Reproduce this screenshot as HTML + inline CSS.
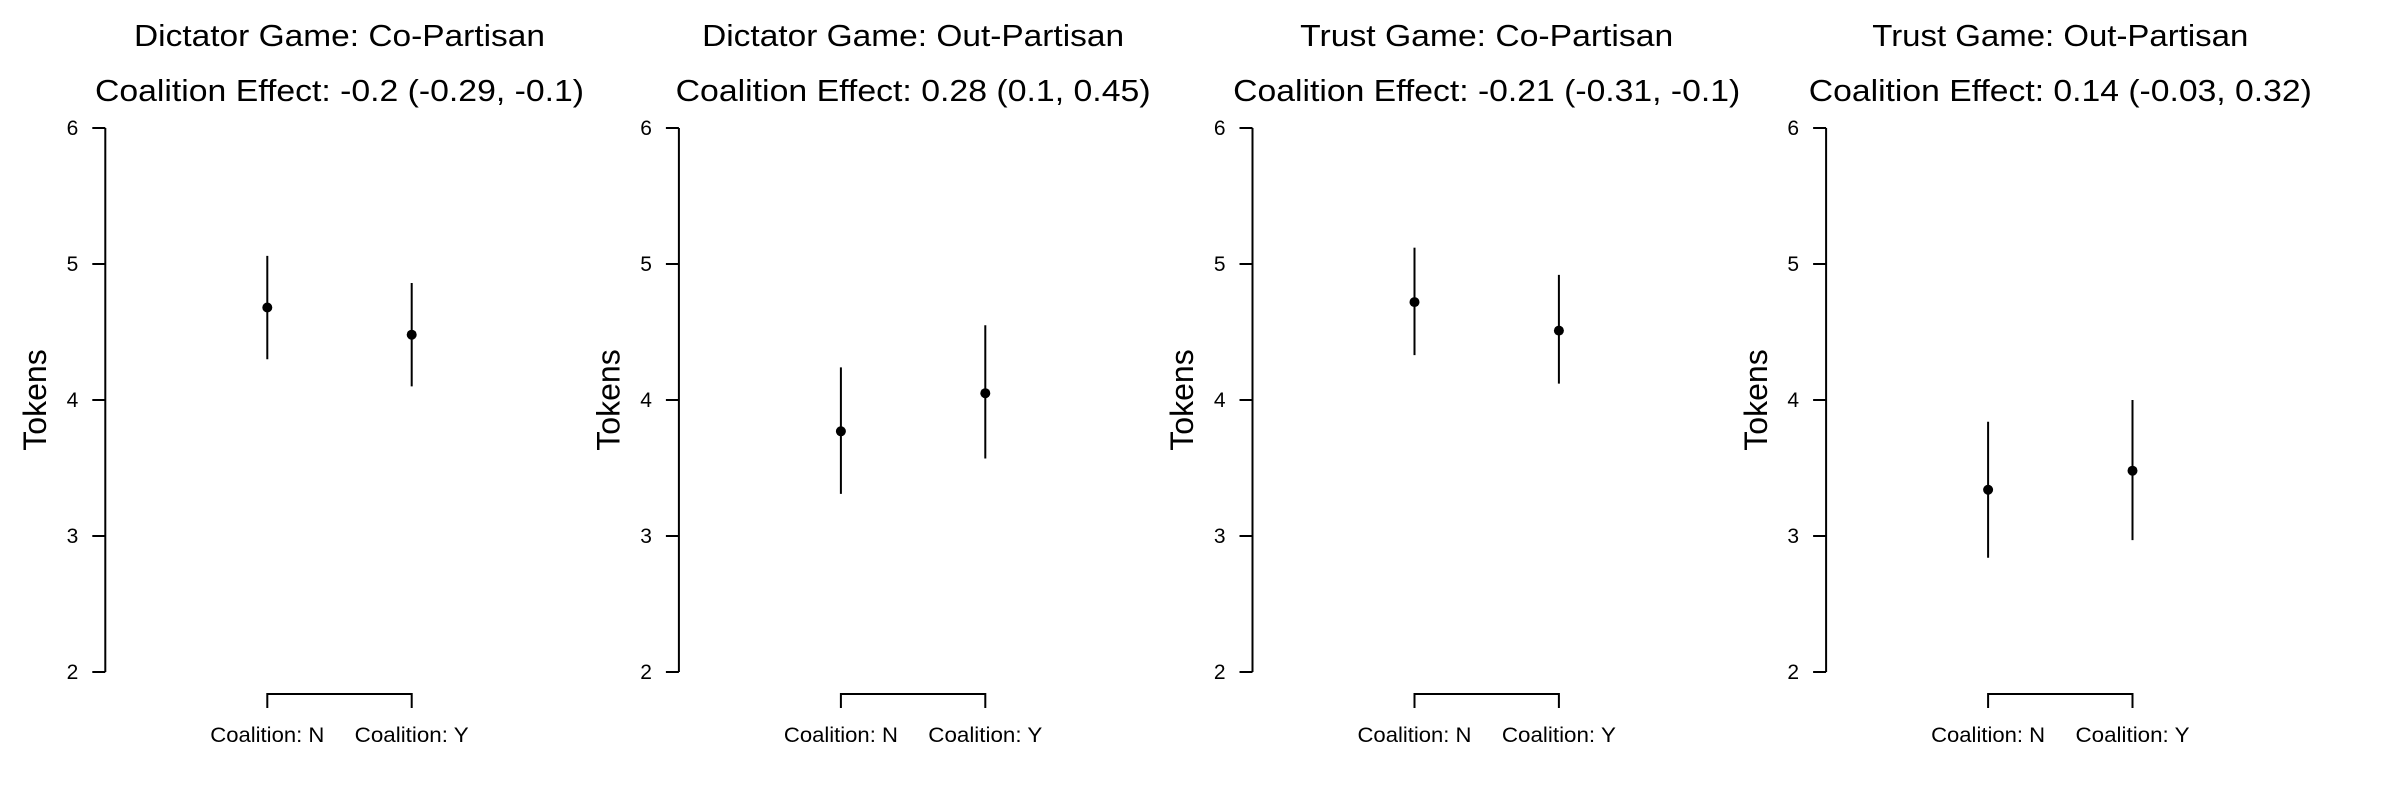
<!DOCTYPE html>
<html><head><meta charset="utf-8"><style>
html,body{margin:0;padding:0;background:#fff;}
svg{display:block;font-family:"Liberation Sans",Arial,sans-serif;}
</style></head><body>
<svg id="chart" width="2400" height="800" viewBox="0 0 2400 800"></svg>
<script>
const titles1 = ["Dictator Game: Co-Partisan","Dictator Game: Out-Partisan","Trust Game: Co-Partisan","Trust Game: Out-Partisan"];
const titles2 = ["Coalition Effect: -0.2 (-0.29, -0.1)","Coalition Effect: 0.28 (0.1, 0.45)","Coalition Effect: -0.21 (-0.31, -0.1)","Coalition Effect: 0.14 (-0.03, 0.32)"];
const t1Width = [411,422,373,376];
const t2Width = [489,475,507,503];
const categories = ["Coalition: N","Coalition: Y"];
const meanN = [4.68,3.77,4.72,3.34];
const lowN = [4.30,3.31,4.33,2.84];
const highN = [5.06,4.24,5.12,3.84];
const meanY = [4.48,4.05,4.51,3.48];
const lowY = [4.10,3.57,4.12,2.97];
const highY = [4.86,4.55,4.92,4.00];
const yTicks = [2,3,4,5,6];

const svg = document.getElementById('chart');
const NS = 'http://www.w3.org/2000/svg';
function mk(tag, attrs, parent){const e=document.createElementNS(NS,tag);for(const k in attrs)e.setAttribute(k,attrs[k]);parent.appendChild(e);return e;}
const yScale = v => 672 - (v-2)*136;
const step = 573.6;

for(let p=0;p<4;p++){
  const ox = p*step;
  const g = mk('g',{},svg);
  
  
  const axX = 105.3+ox;
  const xN = 267.3+ox, xY = 411.7+ox;
  const cx = (xN+xY)/2;
  const a = mk('text',{x:cx,y:46,'font-size':31,'text-anchor':'middle',textLength:t1Width[p],lengthAdjust:'spacingAndGlyphs'},g);
  a.textContent = titles1[p];
  
  
  const b = mk('text',{x:cx,y:101,'font-size':31,'text-anchor':'middle',textLength:t2Width[p],lengthAdjust:'spacingAndGlyphs'},g);
  b.textContent = titles2[p];
  
  
  const ax = mk('line',{x1:axX,x2:axX,y1:yScale(6),y2:yScale(2),stroke:'#000','stroke-width':2},g);
  
  
  yTicks.forEach(t=>{
    const tk = mk('line',{x1:axX-13,x2:axX,y1:yScale(t),y2:yScale(t),stroke:'#000','stroke-width':2},g);
    
    
    const tl = mk('text',{x:axX-27,y:yScale(t)+7,'font-size':21,'text-anchor':'end'},g);
    tl.textContent = t;
    
    
  });
  const yl = mk('text',{x:0,y:0,'font-size':32,'text-anchor':'middle',transform:`translate(${46+ox},400) rotate(-90)`},g);
  yl.textContent = 'Tokens';
  
  
  const br = mk('path',{d:`M${xN},708 V694 H${xY} V708`,fill:'none',stroke:'#000','stroke-width':2},g);
  
  
  [xN,xY].forEach((x,i)=>{
    const xl = mk('text',{x:x,y:742,'font-size':21,'text-anchor':'middle',textLength:114,lengthAdjust:'spacingAndGlyphs'},g);
    xl.textContent = categories[i];
    
    
  });
  const series = [[xN,meanN[p],lowN[p],highN[p]],[xY,meanY[p],lowY[p],highY[p]]];
  series.forEach(([x,m,lo,hi])=>{
    const el = mk('line',{x1:x,x2:x,y1:yScale(lo),y2:yScale(hi),stroke:'#000','stroke-width':2},g);
    
    
    const pt = mk('circle',{cx:x,cy:yScale(m),r:5,fill:'#000'},g);
    
    
  });
}
</script>
</body></html>
